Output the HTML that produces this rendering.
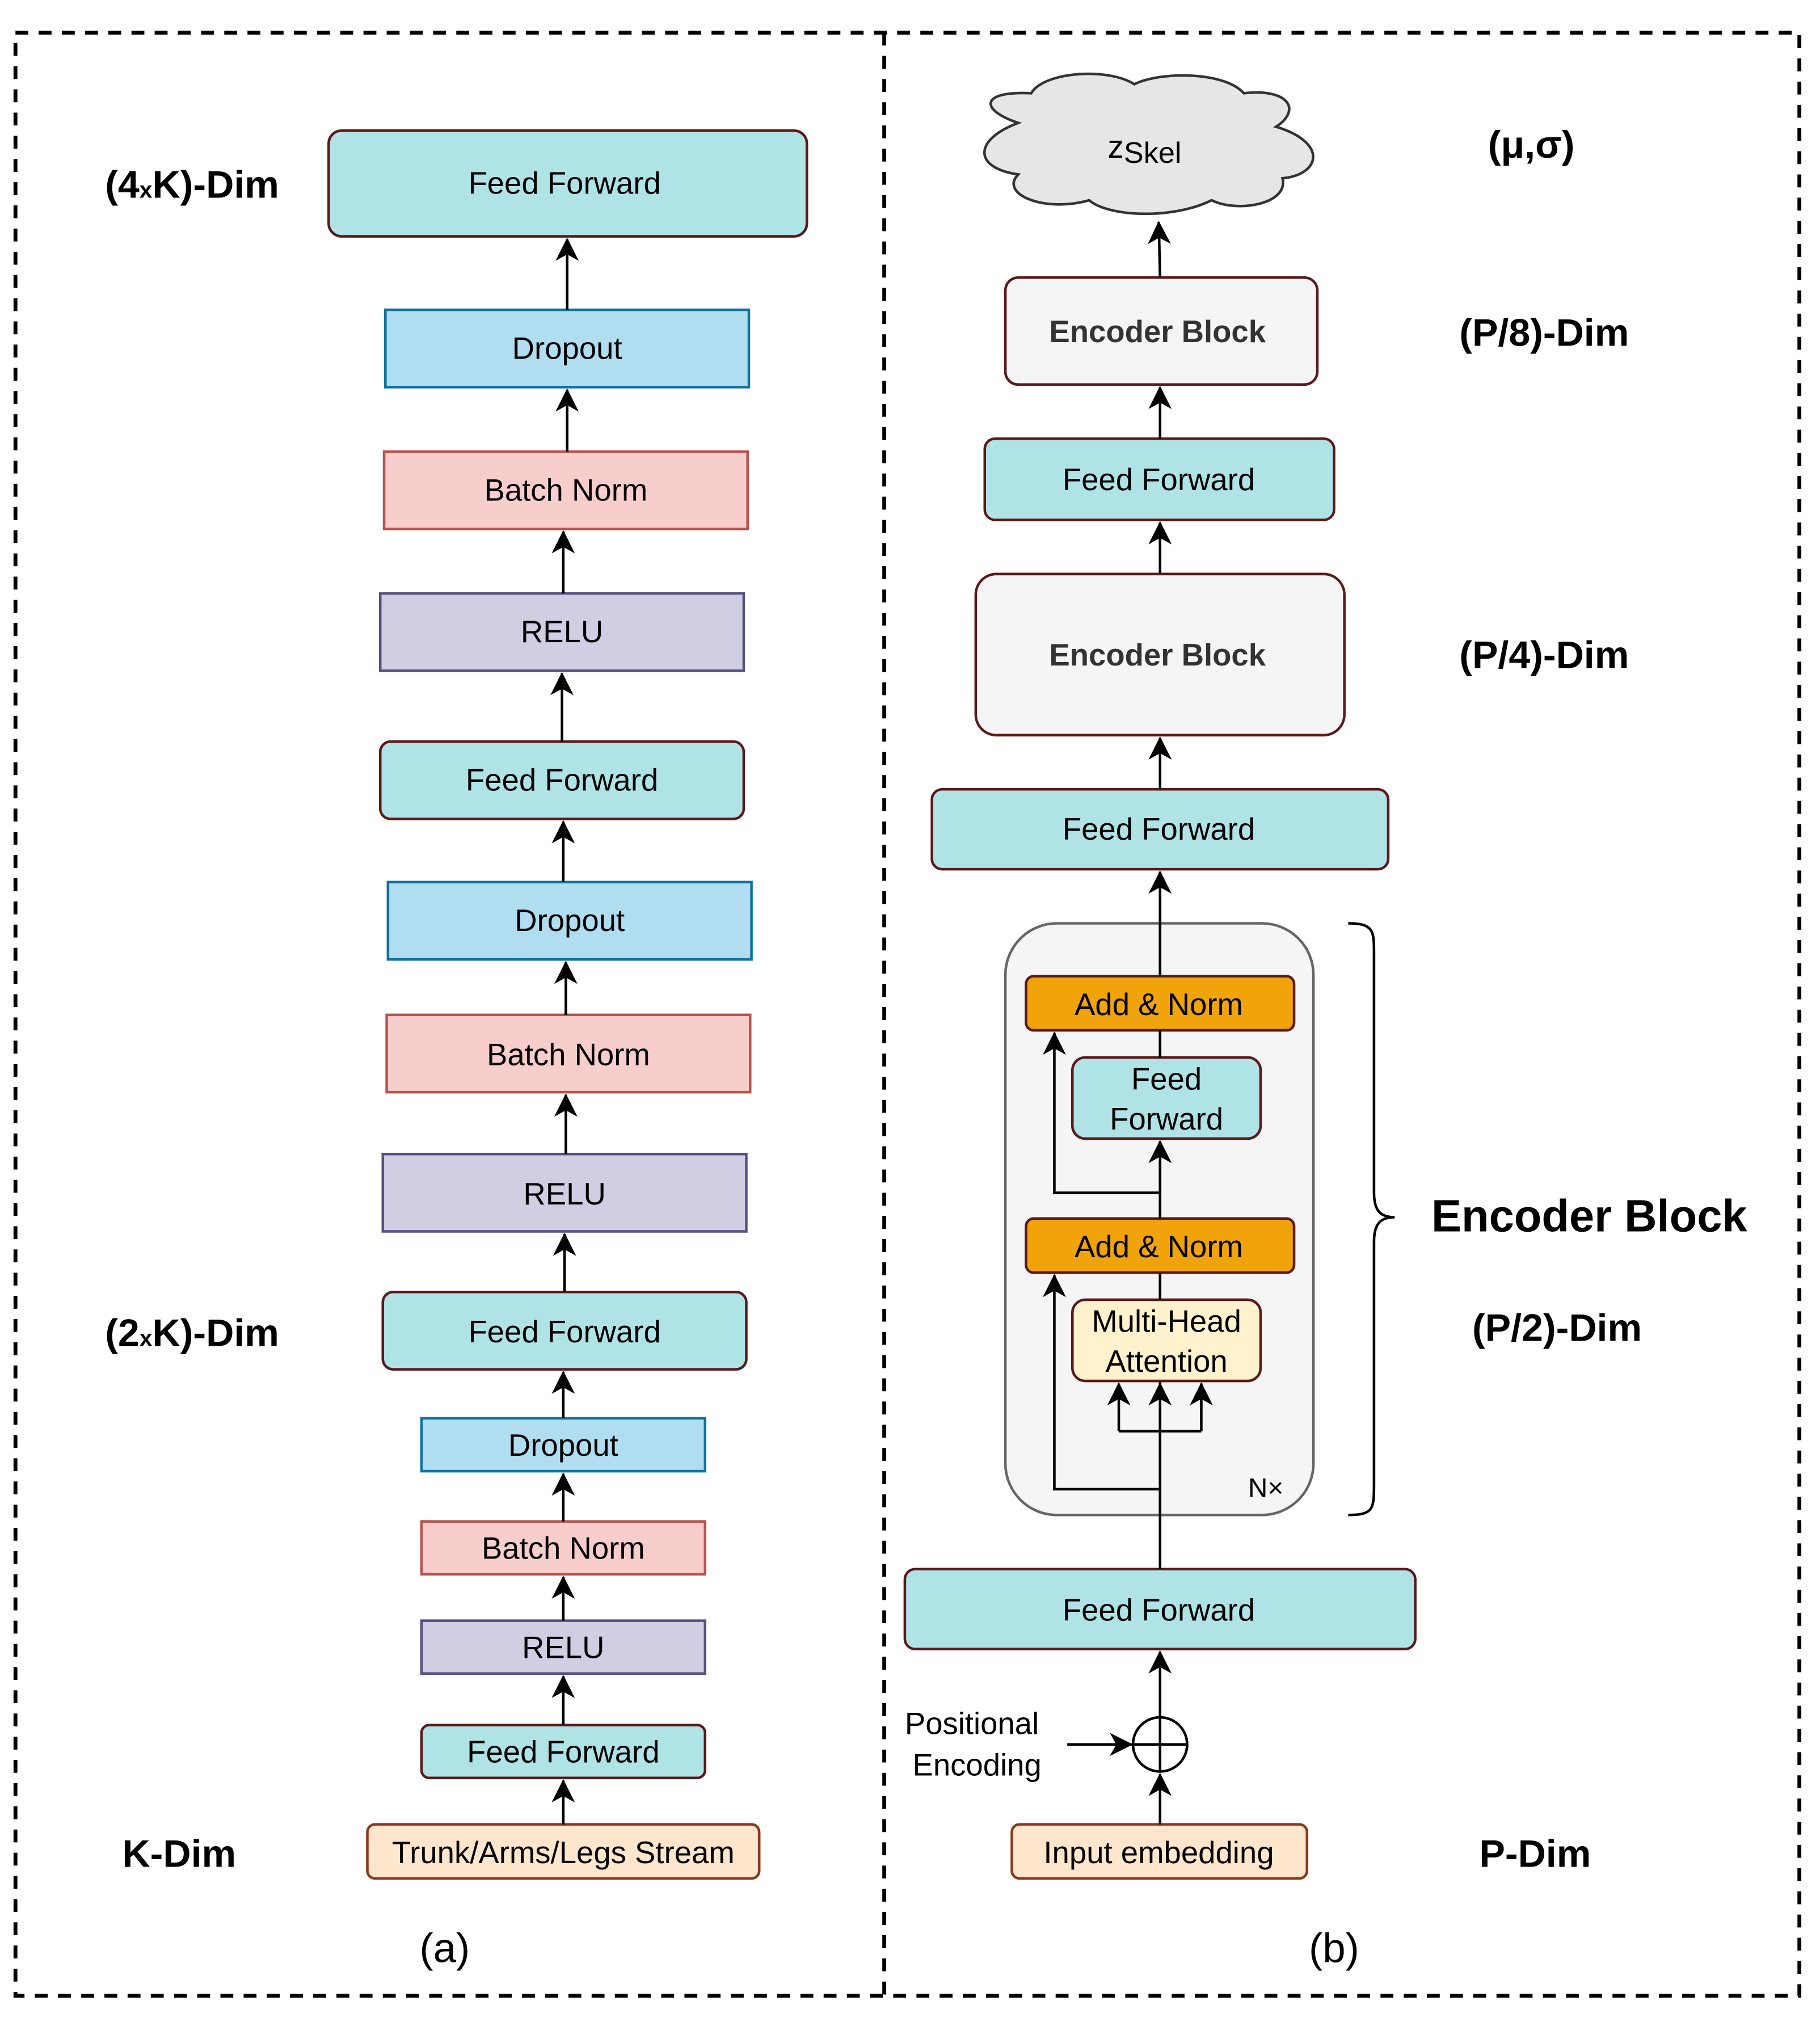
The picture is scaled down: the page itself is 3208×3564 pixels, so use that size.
<!DOCTYPE html>
<html><head><style>body{margin:0;background:#fff}svg{display:block}</style></head><body>
<svg width="3208" height="3564" viewBox="0 0 1412 1568" xmlns="http://www.w3.org/2000/svg" font-family="Liberation Sans, sans-serif">
<defs>
<marker id="b" markerWidth="18" markerHeight="18" refX="17" refY="9" orient="auto" markerUnits="userSpaceOnUse" viewBox="0 0 18 18"><path d="M0,0 L18,9 L0,18 L5,9 Z" fill="#000"/></marker></defs>
<rect width="1412" height="1568" fill="#fff"/>
<g fill="none" stroke="#000" stroke-width="3" stroke-dasharray="10,8">
<rect x="12" y="25" width="1384" height="1523"/><line x1="686" y1="25" x2="686" y2="1548"/></g>
<g stroke-width="2" font-size="24" text-anchor="middle">
<g stroke="#5a1a1a" fill="#b0e3e6"><rect x="255" y="101" width="371" height="82" rx="10"/><rect x="295" y="575" width="282" height="60" rx="8"/><rect x="297" y="1002" width="282" height="60" rx="8"/><rect x="327" y="1338" width="220" height="41" rx="6"/></g>
<g stroke="#10739e" fill="#b1ddf0"><rect x="299" y="240" width="282" height="60"/><rect x="301" y="684" width="282" height="60"/><rect x="327" y="1100" width="220" height="41"/></g>
<g stroke="#b85450" fill="#f8cecc"><rect x="298" y="350" width="282" height="60"/><rect x="300" y="787" width="282" height="60"/><rect x="327" y="1180" width="220" height="41"/></g>
<g stroke="#56517e" fill="#d0cee2"><rect x="295" y="460" width="282" height="60"/><rect x="297" y="895" width="282" height="60"/><rect x="327" y="1257" width="220" height="41"/></g>
<rect x="285" y="1415" width="304" height="42" rx="6" fill="#ffe6cc" stroke="#8a3a1a"/>
<g stroke="none" fill="#000">
<text x="438" y="150">Feed Forward</text><text x="440" y="278">Dropout</text><text x="439" y="388">Batch Norm</text><text x="436" y="498">RELU</text><text x="436" y="613">Feed Forward</text><text x="442" y="722">Dropout</text><text x="441" y="826">Batch Norm</text><text x="438" y="934">RELU</text><text x="438" y="1041">Feed Forward</text><text x="437" y="1129">Dropout</text><text x="437" y="1209">Batch Norm</text><text x="437" y="1286">RELU</text><text x="437" y="1367">Feed Forward</text><text x="437" y="1445">Trunk/Arms/Legs Stream</text>
<text x="345" y="1522" font-size="32">(a)</text><text x="1035" y="1522" font-size="32">(b)</text>
</g>
<g stroke="#000" stroke-width="2" marker-end="url(#b)">
<line x1="440" y1="240" x2="440" y2="185"/><line x1="440" y1="350" x2="440" y2="302"/><line x1="437" y1="460" x2="437" y2="412"/><line x1="436" y1="575" x2="436" y2="522"/><line x1="437" y1="684" x2="437" y2="637"/><line x1="439" y1="787" x2="439" y2="746"/><line x1="439" y1="895" x2="439" y2="849"/><line x1="438" y1="1002" x2="438" y2="957"/><line x1="437" y1="1100" x2="437" y2="1064"/><line x1="437" y1="1180" x2="437" y2="1143"/><line x1="437" y1="1257" x2="437" y2="1223"/><line x1="437" y1="1338" x2="437" y2="1300"/><line x1="437" y1="1415" x2="437" y2="1381"/>
</g>
<path d="M790,95 C760,85 760,70 800,72 C810,55 860,52 880,65 C900,55 950,55 965,72 C1000,68 1010,85 990,98 C1030,110 1025,135 995,138 C1000,158 960,165 940,155 C910,170 860,168 845,155 C810,165 775,150 790,135 C755,130 755,108 790,95 Z" fill="#e6e6e6" stroke="#333"/>
<g stroke="#5a1a1a" fill="#f5f5f5"><rect x="780" y="215" width="242" height="83" rx="10"/><rect x="757" y="445" width="286" height="125" rx="16"/></g>
<rect x="780" y="716" width="239" height="459" rx="40" fill="#f5f5f5" stroke="#666"/>
<g stroke="#5a1a1a" fill="#b0e3e6"><rect x="764" y="340" width="271" height="63" rx="8"/><rect x="723" y="612" width="354" height="62" rx="8"/><rect x="702" y="1217" width="396" height="62" rx="8"/><rect x="832" y="820" width="146" height="63" rx="10"/></g>
<g stroke="#5a1a1a" fill="#f0a30a"><rect x="796" y="757" width="208" height="42" rx="6"/><rect x="796" y="945" width="208" height="42" rx="6"/></g>
<rect x="832" y="1008" width="146" height="63" rx="10" fill="#fff2cc" stroke="#5a1a1a"/>
<rect x="785" y="1415" width="229" height="42" rx="6" fill="#ffe6cc" stroke="#8a3a1a"/>
<circle cx="900" cy="1353" r="21" fill="none" stroke="#000"/>
<g stroke="#000" fill="none">
<line x1="879" y1="1353" x2="921" y2="1353"/><line x1="900" y1="1332" x2="900" y2="1374"/>
<line x1="900" y1="1217" x2="900" y2="1071"/><line x1="900" y1="1008" x2="900" y2="987"/><line x1="900" y1="945" x2="900" y2="885"/><line x1="900" y1="820" x2="900" y2="799"/><line x1="900" y1="757" x2="900" y2="676"/>
<polyline points="900,1155 818,1155 818,989" marker-end="url(#b)"/><polyline points="900,925 818,925 818,801" marker-end="url(#b)"/>
<polyline points="868,1110 932,1110"/><line x1="868" y1="1110" x2="868" y2="1073" marker-end="url(#b)"/><line x1="900" y1="1110" x2="900" y2="1073" marker-end="url(#b)"/><line x1="932" y1="1110" x2="932" y2="1073" marker-end="url(#b)"/>
<line x1="900" y1="925" x2="900" y2="885" marker-end="url(#b)"/>
<line x1="900" y1="717" x2="900" y2="676" marker-end="url(#b)"/>
<line x1="900" y1="612" x2="900" y2="572" marker-end="url(#b)"/><line x1="900" y1="445" x2="900" y2="405" marker-end="url(#b)"/><line x1="900" y1="340" x2="900" y2="300" marker-end="url(#b)"/><line x1="900" y1="215" x2="899" y2="172" marker-end="url(#b)"/>
<line x1="900" y1="1415" x2="900" y2="1376" marker-end="url(#b)"/><line x1="900" y1="1332" x2="900" y2="1281" marker-end="url(#b)"/>
<line x1="828" y1="1353" x2="878" y2="1353" marker-end="url(#b)"/>
<path d="M1046,716 C1066,716 1066,722 1066,740 L1066,925 C1066,940 1072,944 1082,944 C1072,944 1066,948 1066,963 L1066,1150 C1066,1170 1066,1175 1046,1175" stroke-width="2"/>
</g>
<g stroke="none" fill="#000">
<text x="888" y="122" font-size="25">z<tspan font-size="23" dy="4">Skel</tspan></text>
<text x="898" y="265" font-weight="bold" fill="#333">Encoder Block</text><text x="898" y="516" font-weight="bold" fill="#333">Encoder Block</text>
<text x="899" y="380">Feed Forward</text><text x="899" y="651">Feed Forward</text><text x="899" y="1257">Feed Forward</text>
<text x="899" y="787">Add &amp; Norm</text><text x="899" y="975">Add &amp; Norm</text>
<text x="905" y="845">Feed</text><text x="905" y="876">Forward</text>
<text x="905" y="1033">Multi-Head</text><text x="905" y="1064">Attention</text>
<text x="982" y="1161" font-size="21">N×</text>
<text x="899" y="1445">Input embedding</text>
<text x="754" y="1345">Positional</text><text x="758" y="1377">Encoding</text>
</g>
<g stroke="none" fill="#000" font-weight="bold" font-size="30">
<text x="149" y="153">(4<tspan font-size="18">x</tspan>K)-Dim</text>
<text x="149" y="1044">(2<tspan font-size="18">x</tspan>K)-Dim</text>
<text x="139" y="1448">K-Dim</text>
<text x="1188" y="122">(μ,σ)</text>
<text x="1198" y="268">(P/8)-Dim</text>
<text x="1198" y="518">(P/4)-Dim</text>
<text x="1233" y="955" font-size="35">Encoder Block</text>
<text x="1208" y="1040">(P/2)-Dim</text>
<text x="1191" y="1448">P-Dim</text>
</g>
</g>
</svg>
</body></html>
